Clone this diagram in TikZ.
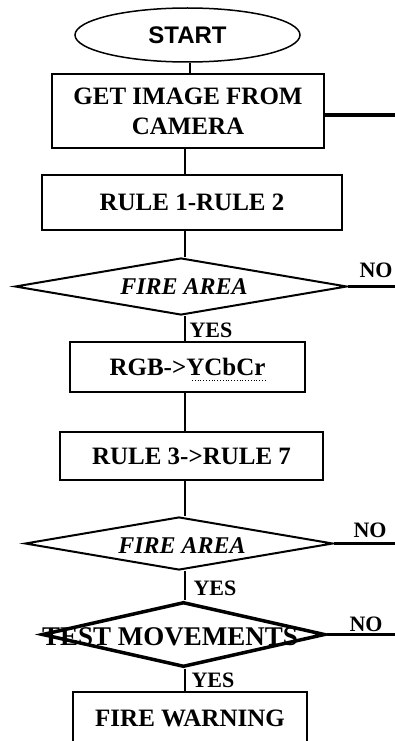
\documentclass[tikz,border=0pt]{standalone}
\usepackage{fontspec}
\setmainfont{Liberation Serif}
\setsansfont{Liberation Sans}
\usetikzlibrary{shapes.geometric,calc}
\begin{document}
\begin{tikzpicture}[x=1pt,y=-1pt,
  box/.style={draw, line width=2pt, rectangle, inner sep=0pt, align=center, font=\bfseries\fontsize{25}{30}\selectfont},
  dec/.style={draw, diamond, line width=2pt, inner sep=0pt},
  dectext/.style={inner sep=0pt, font=\bfseries\itshape\fontsize{24}{26}\selectfont},
  conn/.style={line width=2.5pt},
  exitline/.style={line width=3.5pt},
  lbl/.style={inner sep=0pt, font=\bfseries\fontsize{22}{24}\selectfont}]
\useasboundingbox (0,0) rectangle (395,741);
\clip (0,0) rectangle (395,741);
\fill[white] (0,0) rectangle (395,741);
\coordinate (spine) at (185,0);
\coordinate (spine0) at (190,0);
\coordinate (edge) at (395,0);
\coordinate (e0) at (395,115);

\node[draw, ellipse, line width=1.5pt, minimum width=225pt, minimum height=54pt, inner sep=0pt,
      font=\sffamily\bfseries\fontsize{24}{26}\selectfont] (start) at (187.5,35) {START};
\node[box, minimum width=272pt, minimum height=74pt] (get) at (188,111) {GET IMAGE FROM\\CAMERA};
\node[box, minimum width=300pt, minimum height=55pt] (r1) at (192,202.5) {RULE 1-RULE 2};
\node[dec, minimum width=332pt, minimum height=57pt] (d1) at (181,286.5) {};
\node[dectext] (t1) at (184,287) {FIRE AREA};
\node[box, minimum width=235pt, minimum height=50pt] (rgb) at (187.5,367) {RGB->YCbCr};
\node[box, minimum width=263pt, minimum height=48pt] (r3) at (191.5,456) {RULE 3->RULE 7};
\node[dec, minimum width=308pt, minimum height=53pt] (d2) at (179,543.5) {};
\node[dectext] (t2) at (182,546) {FIRE AREA};
\node[dec, line width=3.5pt, minimum width=283pt, minimum height=65pt] (d3) at (183.5,634.5) {};
\node[inner sep=0pt, font=\bfseries\fontsize{27}{29}\selectfont] (t3) at (170,637) {TEST MOVEMENTS};
\node[box, minimum width=234pt, minimum height=52pt] (warn) at (190,718) {FIRE WARNING};

\draw[dotted, line width=0.8pt] ($(rgb.center)+(4.5,13)$) -- ($(rgb.center)+(79.5,13)$);

\draw[conn] (start.south -| spine0) -- (get.north -| spine0);
\draw[conn] (get.south -| spine) -- (r1.north -| spine);
\draw[conn] (r1.south -| spine) -- (d1.north -| spine);
\draw[conn] (d1.south -| spine) -- (rgb.north -| spine);
\draw[conn] (rgb.south -| spine) -- (r3.north -| spine);
\draw[conn] (r3.south -| spine) -- (d2.north -| spine);
\draw[conn] (d2.south -| spine) -- (d3.north -| spine);
\draw[conn] (d3.south -| spine) -- (warn.north -| spine);

\draw[exitline] (get.east |- e0) -- (e0);
\draw[exitline] (d1.east) -- (d1.east -| edge);
\draw[exitline] (d2.east) -- (d2.east -| edge);
\draw[exitline] (d3.east) -- (d3.east -| edge);

\node[lbl] (no1) at (376,270) {NO};
\node[lbl] (no2) at (370,530) {NO};
\node[lbl] (no3) at (366,624) {NO};
\node[lbl] (yes1) at (211,330) {YES};
\node[lbl] (yes2) at (215,588) {YES};
\node[lbl] (yes3) at (213,680) {YES};
\end{tikzpicture}
\end{document}
